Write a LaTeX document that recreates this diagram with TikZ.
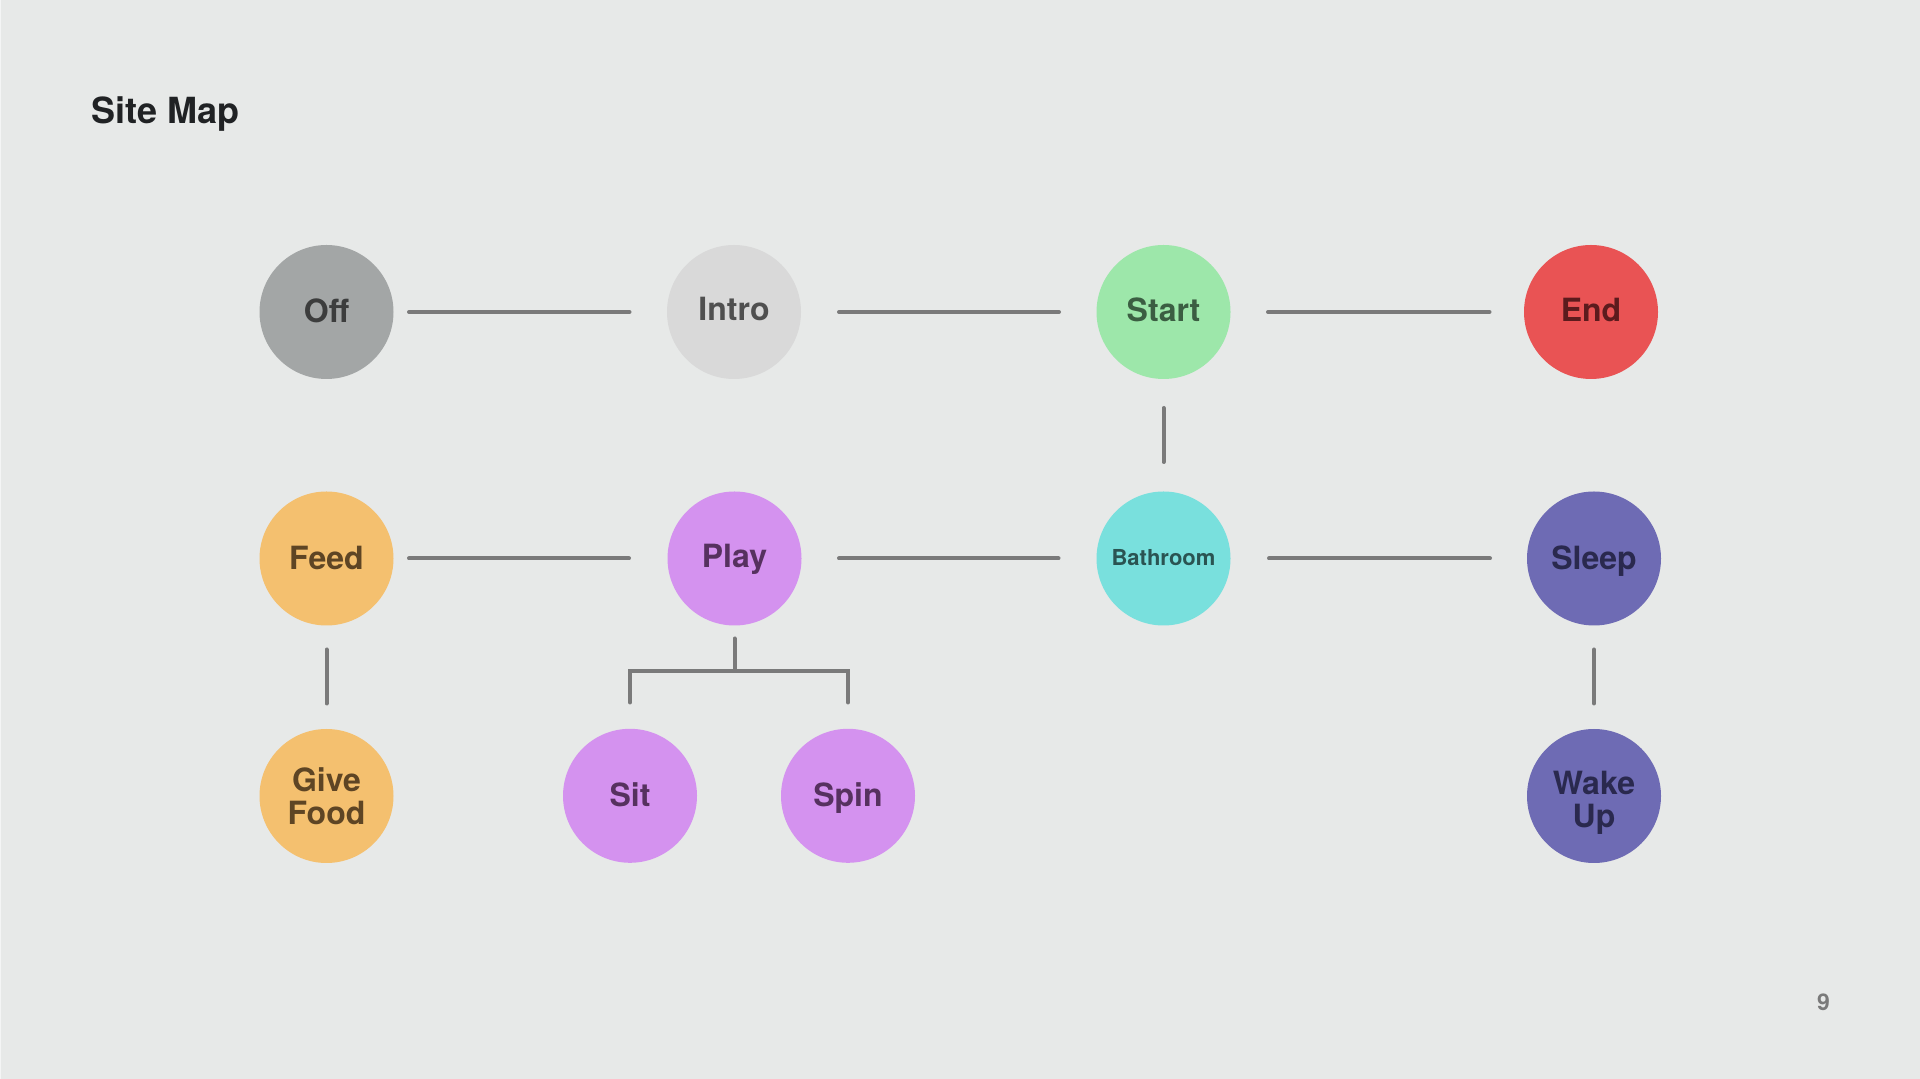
\documentclass[tikz,border=0pt]{standalone}
\usepackage{fontspec}
\setmainfont{TeX Gyre Heros}
\definecolor{bgc}{HTML}{E7E9E8}
\definecolor{linec}{HTML}{7A7A7A}
\definecolor{offf}{HTML}{A3A6A6}\definecolor{offt}{HTML}{3C3D3D}
\definecolor{introf}{HTML}{D9D9D9}\definecolor{introt}{HTML}{505050}
\definecolor{startf}{HTML}{9DE7AA}\definecolor{startt}{HTML}{3B5E42}
\definecolor{endf}{HTML}{E95354}\definecolor{endt}{HTML}{5C1B1D}
\definecolor{feedf}{HTML}{F4C06F}\definecolor{feedt}{HTML}{5E4524}
\definecolor{playf}{HTML}{D492EF}\definecolor{playt}{HTML}{56315F}
\definecolor{bathf}{HTML}{79E0DD}\definecolor{batht}{HTML}{2A5452}
\definecolor{sleepf}{HTML}{6E6BB4}\definecolor{sleept}{HTML}{2A294E}
\definecolor{titlec}{HTML}{202224}
\begin{document}
\begin{tikzpicture}[x=1pt,y=1pt,
  bub/.style={circle, minimum size=134pt, inner sep=0pt,
    font=\fontsize{32}{32}\selectfont\bfseries, text height=23pt, text depth=1pt},
  bubtwo/.style={circle, minimum size=134pt, inner sep=0pt,
    font=\fontsize{32}{33}\selectfont\bfseries, align=center},
  link/.style={draw=linec, line width=4pt, line cap=round}]
\fill[bgc] (0,0) rectangle (1920,1079);
\useasboundingbox (0,0) rectangle (1920,1079);
\draw[white!55!bgc, line width=1.2pt] (0.6,0) -- (0.6,1079);

\node[anchor=base west, text=titlec, font=\fontsize{36}{36}\selectfont\bfseries] (title) at (88,955) {Site Map};
\node[anchor=base, text=linec, font=\fontsize{23}{23}\selectfont\bfseries] (page) at (1823.5,68) {9};

% row 1
\node[bub, fill=offf, text=offt] (off) at (326.5,767) {Off};
\node[bub, fill=introf, text=introt] (intro) at (734,767) {\raisebox{2.5pt}{Intro}};
\node[bub, fill=startf, text=startt] (start) at (1163.5,767) {\raisebox{1pt}{Start}};
\node[bub, fill=endf, text=endt] (end) at (1591,767) {\raisebox{1.5pt}{End}};
% row 2
\node[bub, fill=feedf, text=feedt] (feed) at (326.5,520.5) {Feed};
\node[bub, fill=playf, text=playt] (play) at (734.5,520.5) {\raisebox{1.5pt}{Play}};
\node[bub, fill=bathf, text=batht, font=\fontsize{22}{22}\selectfont\bfseries, text height=16pt, text depth=1pt] (bath) at (1163.5,520.5) {Bathroom};
\node[bub, fill=sleepf, text=sleept] (sleep) at (1594,520.5) {Sleep};
% row 3
\node[bubtwo, fill=feedf, text=feedt] (give) at (326.5,283) {Give\\Food};
\node[bub, fill=playf, text=playt] (sit) at (630,283.2) {Sit};
\node[bub, fill=playf, text=playt] (spin) at (848,283.2) {Spin};
\node[bubtwo, fill=sleepf, text=sleept] (wake) at (1594,283) {\rule{0pt}{31pt}Wake\\\smash{Up}};

% horizontal connectors
\draw[link] ([xshift=82.5]off.center) -- ([xshift=-104.5]intro.center);
\draw[link] ([xshift=105]intro.center) -- ([xshift=-104.5]start.center);
\draw[link] ([xshift=104.5]start.center) -- ([xshift=-101.5]end.center);
\draw[link] ([xshift=82.5]feed.center) -- ([xshift=-105.5]play.center);
\draw[link] ([xshift=104.5]play.center) -- ([xshift=-105]bath.center);
\draw[link] ([xshift=105.5]bath.center) -- ([xshift=-104]sleep.center);

% vertical connectors
\draw[link] ([yshift=-96]start.center) -- ([yshift=96.5]bath.center);
\draw[link] ([yshift=-91]feed.center) -- ([yshift=92.5]give.center);
\draw[link] ([yshift=-91]sleep.center) -- ([yshift=92.5]wake.center);

% play tree
\coordinate (fork) at (734.5,408.3);
\draw[link] ([yshift=-80]play.center) -- (fork);
\draw[link, line join=miter] ([yshift=93.3]sit.center) |- (fork) -| ([yshift=93.3]spin.center);
\end{tikzpicture}
\end{document}
